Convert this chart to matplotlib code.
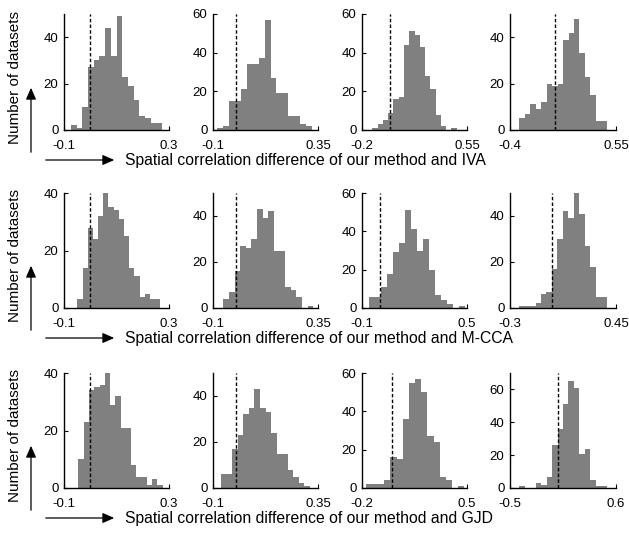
import numpy as np
import matplotlib
matplotlib.use("Agg")
import matplotlib.pyplot as plt

plt.rcParams['font.family'] = ['Liberation Sans', 'DejaVu Sans']

# Histogram counts (16 bins each), bin range and axis settings per panel
methods = ["IVA", "M-CCA", "GJD"]

counts = [
    [[2, 1, 10, 27, 30, 32, 44, 32, 49, 23, 19, 13, 6, 5, 3, 3],
     [1, 2, 15, 15, 21, 34, 34, 37, 57, 27, 19, 19, 7, 7, 3, 2],
     [1, 3, 5, 9, 16, 17, 44, 51, 49, 43, 28, 21, 8, 2, 0, 1],
     [5, 7, 11, 9, 12, 20, 19, 20, 39, 42, 48, 33, 23, 15, 4, 4]],
    [[3, 14, 28, 24, 32, 40, 35, 34, 31, 25, 14, 11, 4, 5, 3, 3],
     [4, 7, 16, 27, 26, 30, 43, 39, 42, 25, 25, 9, 8, 5, 0, 1],
     [6, 6, 11, 18, 29, 34, 51, 41, 30, 36, 20, 7, 4, 2, 0, 1],
     [1, 1, 1, 2, 6, 7, 17, 30, 42, 39, 50, 41, 27, 18, 5, 5]],
    [[10, 23, 34, 35, 36, 40, 29, 32, 21, 21, 8, 4, 4, 1, 3, 1],
     [6, 6, 17, 23, 32, 35, 43, 35, 33, 24, 15, 15, 8, 5, 2, 1],
     [2, 2, 2, 4, 16, 15, 36, 55, 57, 50, 27, 24, 6, 4, 0, 1],
     [1, 0, 0, 3, 2, 7, 26, 36, 51, 65, 61, 21, 24, 5, 1, 1]],
]

bin_ranges = [
    [(-0.073, 0.273), (-0.081, 0.324), (-0.126, 0.476), (-0.317, 0.468)],
    [(-0.049, 0.267), (-0.056, 0.330), (-0.058, 0.486), (-0.235, 0.383)],
    [(-0.045, 0.276), (-0.066, 0.316), (-0.175, 0.482), (-0.404, 0.504)],
]

xlims = [
    [(-0.1, 0.3), (-0.1, 0.35), (-0.2, 0.55), (-0.4, 0.55)],
    [(-0.1, 0.3), (-0.1, 0.35), (-0.1, 0.5), (-0.3, 0.45)],
    [(-0.1, 0.3), (-0.1, 0.35), (-0.2, 0.5), (-0.5, 0.6)],
]
xticklabels = [
    [("-0.1", "0.3"), ("-0.1", "0.35"), ("-0.2", "0.55"), ("-0.4", "0.55")],
    [("-0.1", "0.3"), ("-0.1", "0.35"), ("-0.1", "0.5"), ("-0.3", "0.45")],
    [("-0.1", "0.3"), ("-0.1", "0.35"), ("-0.2", "0.5"), ("-0.5", "0.6")],
]
ytops = [
    [50, 60, 60, 50],
    [40, 50, 60, 50],
    [40, 50, 60, 70],
]

W, H = 629, 538
fig = plt.figure(figsize=(W / 100, H / 100), dpi=100)

col_left = [64, 213, 362, 510]
col_w = [105, 105, 105, 106]
row_top = [14, 193, 373]
row_bottom = [130, 308, 488]

bar_color = "#808080"

for r in range(3):
    for c in range(4):
        x0 = col_left[c] / W
        y0 = 1 - row_bottom[r] / H
        w = col_w[c] / W
        h = (row_bottom[r] - row_top[r]) / H
        ax = fig.add_axes([x0, y0, w, h])
        cts = np.array(counts[r][c])
        lo, hi = bin_ranges[r][c]
        edges = np.linspace(lo, hi, len(cts) + 1)
        ax.bar(edges[:-1], cts, width=np.diff(edges), align="edge",
               color=bar_color, edgecolor="none", linewidth=0)
        ytop = ytops[r][c]
        ax.plot([0, 0], [0, ytop], color="black", linestyle=(0, (2.5, 1.6)), linewidth=1.0)
        ax.set_xlim(*xlims[r][c])
        ax.set_ylim(0, ytop)
        ax.set_xticks(list(xlims[r][c]))
        ax.set_xticklabels(list(xticklabels[r][c]))
        yt = list(range(0, ytop + 1, 20))
        ax.set_yticks(yt)
        ax.set_yticklabels([str(v) for v in yt])
        for side in ("top", "right"):
            ax.spines[side].set_visible(False)
        for side in ("left", "bottom"):
            ax.spines[side].set_linewidth(1.0)
        ax.tick_params(direction="in", length=3, width=0.8, labelsize=9.5)
        ax.tick_params(axis="x", pad=7)
        ax.tick_params(axis="y", pad=4)

    # Row labels with arrows
    fig.text(15 / W, 1 - (row_top[r] + 63) / H, "Number of datasets", rotation=90,
             ha="center", va="center", fontsize=11)
    ay_bottom = row_bottom[r] + 25
    fig.add_artist(matplotlib.patches.FancyArrowPatch(
        (31 / W, 1 - ay_bottom / H), (31 / W, 1 - (ay_bottom - 70) / H),
        transform=fig.transFigure, arrowstyle="-|>,head_length=0.5,head_width=0.22",
        mutation_scale=14, color="black", linewidth=0.9))
    ax_y = row_bottom[r] + 30
    fig.add_artist(matplotlib.patches.FancyArrowPatch(
        (43 / W, 1 - ax_y / H), (117 / W, 1 - ax_y / H),
        transform=fig.transFigure, arrowstyle="-|>,head_length=0.5,head_width=0.22",
        mutation_scale=14, color="black", linewidth=0.9))
    fig.text(125 / W, 1 - (ax_y + 1) / H,
             "Spatial correlation difference of our method and " + methods[r],
             ha="left", va="center", fontsize=11.3)

fig.savefig("out.png", dpi=100)
